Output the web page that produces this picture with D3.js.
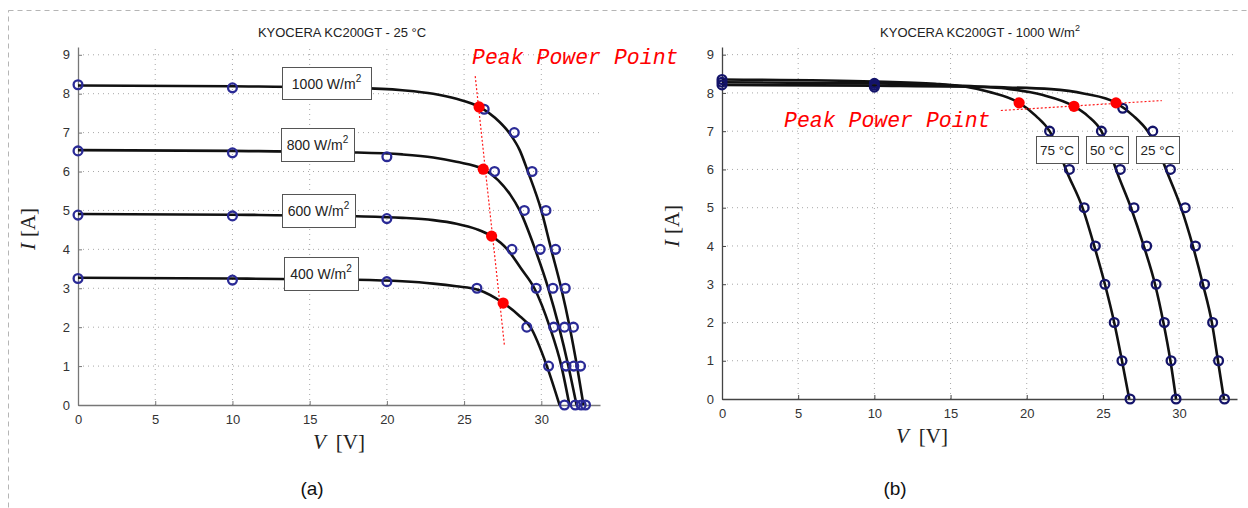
<!DOCTYPE html>
<html>
<head>
<meta charset="utf-8">
<script src="https://cdn.jsdelivr.net/npm/d3@7"></script>
<style>
  body { margin: 0; background: #fff; }
  text { font-family: "Liberation Sans", Arial, sans-serif; }
</style>
</head>
<body>
<svg id="chart"></svg>
<script>
// ---- data ----
const vTicks = [0, 5, 10, 15, 20, 25, 30];
const iTicks = [0, 1, 2, 3, 4, 5, 6, 7, 8, 9];

// (a) irradiance sweep at 25 °C
const irrLabels = ["1000", "800", "600", "400"];
const irrCurves = [
  [[0,8.21],[10,8.19],[18,8.15],[21,8.09],[23,8.0],[24.5,7.87],[26,7.66],[27,7.38],[28,6.95],[28.6,6.55],[29.13,6.0],[30.0,5.0],[30.64,4.0],[31.29,3.0],[31.84,2.0],[32.31,1.0],[32.73,0]],
  [[0,6.55],[10,6.53],[18,6.49],[21,6.44],[23,6.36],[24.5,6.25],[26.24,6.06],[27.2,5.78],[28,5.4],[28.6,5.0],[29.6,4.0],[30.45,3.0],[31.15,2.0],[31.75,1.0],[32.28,0]],
  [[0,4.91],[10,4.89],[18,4.85],[21,4.81],[23,4.75],[24.5,4.66],[25.8,4.52],[26.78,4.34],[27.8,4.0],[28.7,3.5],[29.55,3.0],[30.55,2.0],[31.3,1.0],[31.82,0]],
  [[0,3.27],[10,3.25],[18,3.22],[21,3.18],[23,3.12],[24.5,3.05],[25.9,2.96],[27.53,2.62],[28.5,2.32],[29.3,2.0],[30.36,1.0],[31.18,0]]
];
const irrPoints = [
  [[0,8.23],[10,8.15],[26.3,7.6],[28.25,7.0],[29.4,6.0],[30.3,5.0],[30.92,4.0],[31.55,3.0],[32.08,2.0],[32.54,1.0],[32.86,0]],
  [[0,6.53],[10,6.48],[20,6.38],[26.97,6.0],[28.9,5.0],[29.93,4.0],[30.75,3.0],[31.5,2.0],[32.1,1.0],[32.58,0]],
  [[0,4.88],[10,4.86],[20,4.79],[28.1,4.0],[29.67,3.0],[30.8,2.0],[31.6,1.0],[32.2,0]],
  [[0,3.25],[10,3.21],[20,3.17],[25.83,3.0],[29.06,2.0],[30.47,1.0],[31.5,0]]
];
const irrPeaks = [[25.97,7.66],[26.24,6.06],[26.78,4.34],[27.53,2.62]];
const irrPeakLine = [[25.72,8.45],[27.62,1.5]];

// (b) temperature sweep at 1000 W/m2
const tempLabels = ["75 °C", "50 °C", "25 °C"];
const tempCurves = [
  [[0,8.35],[10,8.3],[14,8.24],[16,8.16],[17.5,8.03],[19.5,7.74],[20.6,7.4],[21.5,7.0],[22.1,6.5],[22.57,6.0],[23.66,5.0],[24.43,4.0],[25.13,3.0],[25.74,2.0],[26.25,1.0],[26.73,0]],
  [[0,8.28],[10,8.25],[15,8.2],[18.9,8.1],[21,7.95],[23.1,7.65],[24,7.4],[24.9,7.0],[25.4,6.55],[25.86,6.0],[26.84,5.0],[27.68,4.0],[28.42,3.0],[28.97,2.0],[29.43,1.0],[29.8,0]],
  [[0,8.21],[10,8.19],[18,8.15],[21.6,8.1],[23.8,7.98],[25.86,7.74],[27,7.4],[27.94,7.0],[28.6,6.55],[29.14,6.0],[30.13,5.0],[30.9,4.0],[31.56,3.0],[32.15,2.0],[32.55,1.0],[32.94,0]]
];
const tempPoints = [
  [[0,8.35],[10,8.25],[21.5,7.0],[22.8,6.0],[23.77,5.0],[24.5,4.0],[25.13,3.0],[25.74,2.0],[26.25,1.0],[26.78,0]],
  [[0,8.28],[10,8.2],[24.9,7.0],[26.14,6.0],[27.04,5.0],[27.87,4.0],[28.49,3.0],[29.03,2.0],[29.47,1.0],[29.8,0]],
  [[0,8.21],[10,8.15],[26.3,7.6],[28.27,7.0],[29.43,6.0],[30.4,5.0],[31.07,4.0],[31.67,3.0],[32.2,2.0],[32.59,1.0],[32.98,0]]
];
const tempPeaks = [[19.5,7.74],[23.1,7.65],[25.86,7.74]];
const tempPeakLine = [[18.3,7.54],[28.86,7.8]];

const vMax = 33.8, iMax = 9.2;

const svg = d3.select("#chart").attr("width", 1248).attr("height", 508);

// dashed frame round the figure
svg.append("rect")
  .attr("x", 8.5).attr("y", 10.5)
  .attr("width", 1300).attr("height", 600)
  .attr("fill", "none")
  .attr("stroke", "#b5b5b5")
  .attr("stroke-dasharray", "5,4");

function panel(o) {
  const x = d3.scaleLinear().domain([0, vMax]).range([o.left, o.right]);
  const y = d3.scaleLinear().domain([0, iMax]).range([o.bottom, o.top]);
  const g = svg.append("g");

  // dotted grid
  g.selectAll(".vgrid").data(vTicks.slice(1)).join("line")
    .attr("x1", d => x(d)).attr("x2", d => x(d))
    .attr("y1", o.bottom).attr("y2", o.top)
    .attr("stroke", "#a8a8a8").attr("stroke-dasharray", "1,4");
  g.selectAll(".hgrid").data(iTicks.slice(1)).join("line")
    .attr("x1", o.left).attr("x2", o.right)
    .attr("y1", d => y(d)).attr("y2", d => y(d))
    .attr("stroke", "#a8a8a8").attr("stroke-dasharray", "1,4");

  // axes
  const ax = g.append("g")
    .attr("transform", `translate(0,${o.bottom})`)
    .call(d3.axisBottom(x).tickValues(vTicks).tickSize(-4).tickSizeOuter(0).tickPadding(10));
  const ay = g.append("g")
    .attr("transform", `translate(${o.left},0)`)
    .call(d3.axisLeft(y).tickValues(iTicks).tickSize(-4).tickSizeOuter(0).tickPadding(8));
  [ax, ay].forEach(a => {
    a.select(".domain").attr("stroke", o.axisColor).attr("stroke-width", 1.3);
    a.selectAll(".tick line").attr("stroke", o.axisColor);
    a.selectAll(".tick text").attr("fill", "#333").style("font-size", "13px")
      .style("font-family", "'Liberation Sans', Arial, sans-serif");
  });

  // I-V curves
  const line = d3.line().x(d => x(d[0])).y(d => y(d[1])).curve(d3.curveMonotoneX);
  g.selectAll(".curve").data(o.curves).join("path")
    .attr("d", line)
    .attr("fill", "none")
    .attr("stroke", "#111")
    .attr("stroke-width", 2.6);

  // measured points
  g.selectAll(".pts").data(o.points.flat()).join("circle")
    .attr("cx", d => x(d[0])).attr("cy", d => y(d[1]))
    .attr("r", 4.4)
    .attr("fill", "none")
    .attr("stroke", o.markColor)
    .attr("stroke-width", 2.3);

  // peak power line + dots
  g.append("line")
    .attr("x1", x(o.peakLine[0][0])).attr("y1", y(o.peakLine[0][1]))
    .attr("x2", x(o.peakLine[1][0])).attr("y2", y(o.peakLine[1][1]))
    .attr("stroke", "#ff1a1a").attr("stroke-width", 1.2)
    .attr("stroke-dasharray", "2,2");
  g.selectAll(".peak").data(o.peaks).join("circle")
    .attr("cx", d => x(d[0])).attr("cy", d => y(d[1]))
    .attr("r", 5.6)
    .attr("fill", "#ff0000");

  // title
  const t = g.append("text")
    .attr("x", o.titleX).attr("y", 37)
    .attr("text-anchor", "middle")
    .style("font-size", "13px").attr("fill", "#222")
    .text(o.title);
  if (o.titleSup) {
    t.append("tspan").attr("dy", -6).style("font-size", "9px").text(o.titleSup);
  }

  // axis labels
  const yl = g.append("text")
    .attr("transform", `translate(${o.left - 43},${(o.top + o.bottom) / 2 + 3}) rotate(-90)`)
    .attr("text-anchor", "middle")
    .style("font-family", "'Liberation Serif', 'Times New Roman', serif")
    .style("font-size", "21px").attr("fill", "#222");
  yl.append("tspan").style("font-style", "italic").text("I");
  yl.append("tspan").attr("dx", 6).text("[A]");

  const xl = g.append("text")
    .attr("x", o.xLabelX).attr("y", o.bottom + 44)
    .attr("text-anchor", "middle")
    .style("font-family", "'Liberation Serif', 'Times New Roman', serif")
    .style("font-size", "21px").attr("fill", "#222");
  xl.append("tspan").style("font-style", "italic").text("V");
  xl.append("tspan").attr("dx", 10).text("[V]");

  g.append("text")
    .attr("x", o.xLabelX - 27).attr("y", 495)
    .attr("text-anchor", "middle")
    .style("font-size", "19px").attr("fill", "#111")
    .text(o.caption);

  // "Peak Power Point" annotation
  g.append("text")
    .attr("x", o.pppX).attr("y", o.pppY)
    .style("font-family", "'Liberation Mono', 'Courier New', monospace")
    .style("font-style", "italic")
    .style("font-size", "21.5px")
    .attr("fill", "#ff0000")
    .text("Peak Power Point");

  // curve label boxes
  o.boxes.forEach((b, i) => {
    g.append("rect")
      .attr("x", b.x + 0.5).attr("y", b.y + 0.5)
      .attr("width", b.w).attr("height", b.h)
      .attr("fill", "#fff").attr("stroke", "#555").attr("stroke-width", 1);
    const lt = g.append("text")
      .attr("x", b.x + b.w / 2).attr("y", b.y + b.h / 2 + 5.5)
      .attr("text-anchor", "middle")
      .style("font-size", o.labelSize).attr("fill", "#222")
      .text(o.labels[i]);
    if (o.labelSup) {
      lt.append("tspan").attr("dy", -7).style("font-size", "10px").text(o.labelSup);
    }
  });

  return { x, y };
}

panel({
  left: 78, right: 600, top: 47, bottom: 405,
  axisColor: "#777", markColor: "#2a2a96",
  curves: irrCurves, points: irrPoints, peaks: irrPeaks, peakLine: irrPeakLine,
  title: "KYOCERA KC200GT - 25 °C", titleX: 342,
  xLabelX: 339, caption: "(a)",
  pppX: 472, pppY: 64,
  labels: irrLabels.map(d => d + " W/m"), labelSup: "2", labelSize: "14px",
  boxes: [
    { x: 282, y: 67, w: 89, h: 32 },
    { x: 281, y: 128, w: 73, h: 33 },
    { x: 282, y: 194, w: 73, h: 33 },
    { x: 284, y: 257, w: 74, h: 33 }
  ]
});

panel({
  left: 722, right: 1237, top: 47, bottom: 399,
  axisColor: "#444", markColor: "#14146a",
  curves: tempCurves, points: tempPoints, peaks: tempPeaks, peakLine: tempPeakLine,
  title: "KYOCERA KC200GT - 1000 W/m", titleSup: "2", titleX: 980,
  xLabelX: 922, caption: "(b)",
  pppX: 784, pppY: 127,
  labels: tempLabels, labelSize: "13.5px",
  boxes: [
    { x: 1036, y: 136, w: 42, h: 27 },
    { x: 1086, y: 136, w: 42, h: 27 },
    { x: 1136, y: 136, w: 43, h: 27 }
  ]
});
</script>
</body>
</html>
